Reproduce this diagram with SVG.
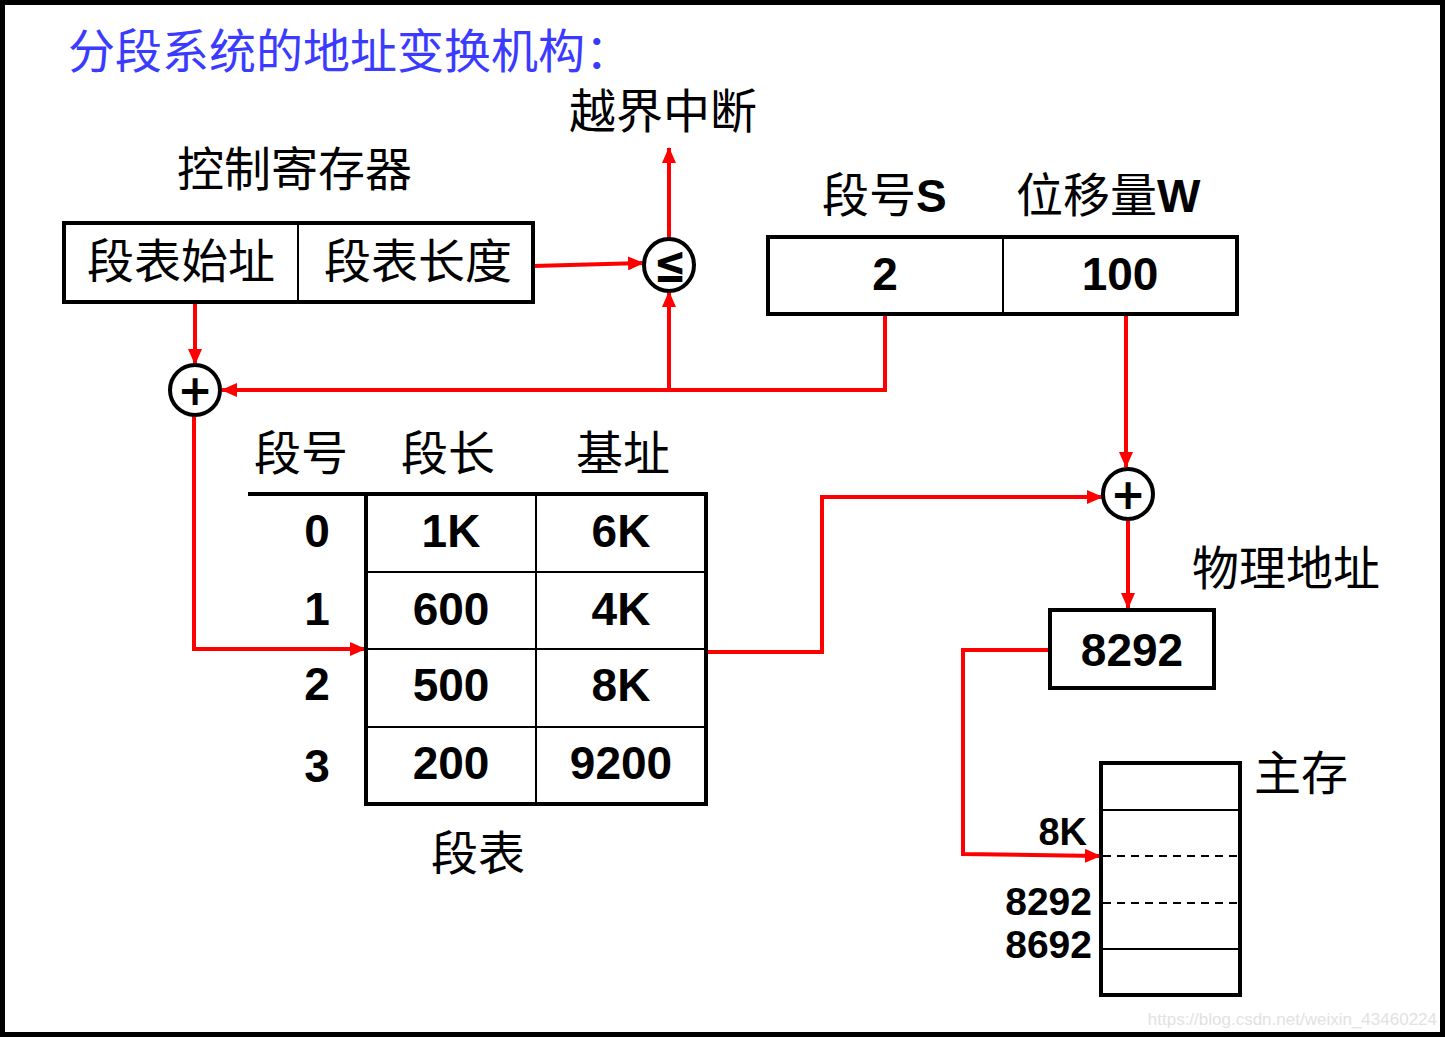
<svg xmlns="http://www.w3.org/2000/svg" width="1445" height="1037" viewBox="0 0 1445 1037">
<defs>
<marker id="arr" markerUnits="userSpaceOnUse" markerWidth="16" markerHeight="14" refX="15" refY="7" orient="auto">
<path d="M0,0 L16,7 L0,14 z" fill="#ff0000"/>
</marker>
</defs>
<style>
.cjk{font-family:"Noto Sans CJK SC","Noto Sans CJK JP",sans-serif;font-size:47px;fill:#000}
.num{font-family:"Liberation Sans",Arial,sans-serif;font-weight:bold;font-size:46px;fill:#000;text-anchor:middle}
.box{fill:#fff;stroke:#000;stroke-width:4}
.thin{stroke:#000;stroke-width:2;fill:none}
.dash{stroke:#000;stroke-width:2;fill:none;stroke-dasharray:8,6}
.wire{stroke:#ff0000;stroke-width:4;fill:none}
.op{fill:#fff;stroke:#000;stroke-width:4}
.sym{font-family:"DejaVu Sans",Arial,sans-serif;font-weight:bold;fill:#000;text-anchor:middle}
</style>
<rect x="0" y="0" width="1445" height="1037" fill="#fff"/>
<rect x="2.5" y="2.5" width="1440" height="1032" fill="none" stroke="#000" stroke-width="5"/>

<text id="title" x="68" y="68" style="font-family:'Noto Sans CJK SC','Noto Sans CJK JP',sans-serif;font-size:47px;fill:#3b3bff">分段系统的地址变换机构：</text>

<g id="connectors">
<path class="wire" d="M533,266 L643,263" marker-end="url(#arr)"/>
<path class="wire" d="M669,239 L669,148" marker-end="url(#arr)"/>
<path class="wire" d="M885,314 L885,390 L222,390" marker-end="url(#arr)"/>
<path class="wire" d="M669,390 L669,292" marker-end="url(#arr)"/>
<path class="wire" d="M195,302 L195,364" marker-end="url(#arr)"/>
<path class="wire" d="M194,416 L194,649 L365,649" marker-end="url(#arr)"/>
<path class="wire" d="M707,652 L822,652 L822,497 L1102,497" marker-end="url(#arr)"/>
<path class="wire" d="M1126,314 L1126,467" marker-end="url(#arr)"/>
<path class="wire" d="M1128,521 L1128,608" marker-end="url(#arr)"/>
<path class="wire" d="M1050,650 L963,650 L963,854 L1100,856" marker-end="url(#arr)"/>
</g>

<g id="interrupt">
<text class="cjk" x="569" y="128">越界中断</text>
</g>

<g id="control-register">
<text class="cjk" x="177" y="186">控制寄存器</text>
<rect class="box" x="64" y="223" width="469" height="79"/>
<line class="thin" x1="298" y1="223" x2="298" y2="302"/>
<text class="cjk" x="87" y="278">段表始址</text>
<text class="cjk" x="324" y="278">段表长度</text>
</g>

<g id="compare">
<ellipse class="op" cx="669" cy="265" rx="25" ry="26"/>
<text class="sym" transform="translate(670,282) scale(0.75,1)" x="0" y="0" font-size="52">≤</text>
</g>

<g id="adder1">
<circle class="op" cx="195" cy="390" r="25"/>
<text class="sym" x="195" y="405" font-size="42">+</text>
</g>

<g id="logical-address">
<text class="cjk" x="822" y="212">段号<tspan style="font-family:'Liberation Sans',Arial,sans-serif;font-weight:bold;font-size:46px">S</tspan></text>
<text class="cjk" x="1016" y="212">位移量<tspan style="font-family:'Liberation Sans',Arial,sans-serif;font-weight:bold;font-size:46px">W</tspan></text>
<rect class="box" x="768" y="237" width="469" height="77"/>
<line class="thin" x1="1003" y1="237" x2="1003" y2="314"/>
<text class="num" x="885" y="290">2</text>
<text class="num" x="1120" y="290">100</text>
</g>

<g id="segment-table">
<text class="cjk" x="254" y="470">段号</text>
<text class="cjk" x="401" y="470">段长</text>
<text class="cjk" x="576" y="470">基址</text>
<line stroke="#000" stroke-width="4" x1="248" y1="494" x2="707" y2="494"/>
<rect class="box" x="366" y="494" width="340" height="310"/>
<line class="thin" x1="536" y1="494" x2="536" y2="804"/>
<line class="thin" x1="366" y1="572" x2="706" y2="572"/>
<line class="thin" x1="366" y1="649" x2="706" y2="649"/>
<line class="thin" x1="366" y1="727" x2="706" y2="727"/>
<text class="num" x="317" y="547">0</text>
<text class="num" x="317" y="625">1</text>
<text class="num" x="317" y="700">2</text>
<text class="num" x="317" y="782">3</text>
<text class="num" x="451" y="547">1K</text>
<text class="num" x="451" y="625">600</text>
<text class="num" x="451" y="701">500</text>
<text class="num" x="451" y="779">200</text>
<text class="num" x="621" y="547">6K</text>
<text class="num" x="621" y="625">4K</text>
<text class="num" x="621" y="701">8K</text>
<text class="num" x="621" y="779">9200</text>
<text class="cjk" x="431" y="870">段表</text>
</g>

<g id="adder2">
<circle class="op" cx="1128" cy="494" r="25"/>
<text class="sym" x="1128" y="509" font-size="42">+</text>
</g>

<g id="physical-address">
<text class="cjk" x="1192" y="585">物理地址</text>
<rect class="box" x="1050" y="610" width="164" height="78"/>
<text class="num" x="1132" y="666">8292</text>
</g>

<g id="main-memory">
<text class="cjk" x="1254" y="790">主存</text>
<rect class="box" x="1101" y="763" width="139" height="232"/>
<line class="thin" x1="1101" y1="810" x2="1240" y2="810"/>
<line class="dash" x1="1103" y1="856" x2="1238" y2="856"/>
<line class="dash" x1="1103" y1="903" x2="1238" y2="903"/>
<line class="thin" x1="1101" y1="949" x2="1240" y2="949"/>
<text class="num" x="1087" y="845" style="text-anchor:end;font-size:38px">8K</text>
<text class="num" x="1092" y="915" style="text-anchor:end;font-size:39px">8292</text>
<text class="num" x="1092" y="958" style="text-anchor:end;font-size:39px">8692</text>
</g>

<text id="watermark" x="1437" y="1025" style="font-family:'Liberation Sans',Arial,sans-serif;font-size:17px;fill:#e2e2e2;text-anchor:end">https://blog.csdn.net/weixin_43460224</text>
</svg>
